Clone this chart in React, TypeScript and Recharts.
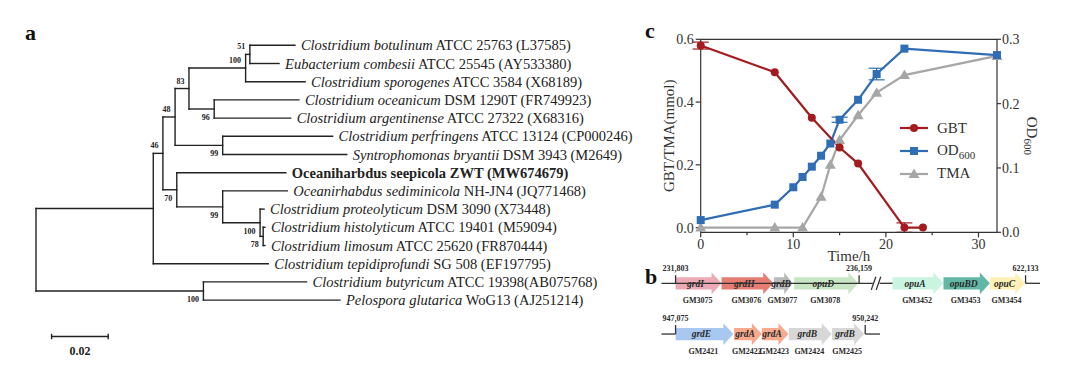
import React from "react";
import {
  ComposedChart, LineChart, Line, Scatter, XAxis, YAxis, ReferenceLine, ReferenceArea, ErrorBar,
} from "recharts";

const SERIF = "'Liberation Serif', 'Times New Roman', serif";
const INK = "#222";

// ---------- a: phylogenetic tree ----------
const LEAF_SPECIES = [
  "Clostridium botulinum", "Eubacterium combesii", "Clostridium sporogenes", "Clostridium oceanicum",
  "Clostridium argentinense", "Clostridium perfringens", "Syntrophomonas bryantii", "Oceaniharbdus seepicola",
  "Oceanirhabdus sediminicola", "Clostridium proteolyticum", "Clostridium histolyticum", "Clostridium limosum",
  "Clostridium tepidiprofundi", "Clostridium butyricum", "Pelospora glutarica",
];
const LEAF_STRAIN = [
  " ATCC 25763 (L37585)", " ATCC 25545 (AY533380)", " ATCC 3584 (X68189)", " DSM 1290T (FR749923)",
  " ATCC 27322 (X68316)", " ATCC 13124 (CP000246)", " DSM 3943 (M2649)", " ZWT (MW674679)",
  " NH-JN4 (JQ771468)", " DSM 3090 (X73448)", " ATCC 19401 (M59094)", " ATCC 25620 (FR870444)",
  " SG 508 (EF197795)", " ATCC 19398(AB075768)", " WoG13 (AJ251214)",
];
const LEAF_PARENT = ["n51", "n51", "n100a", "n96", "n96", "n99a", "n99a", "n70", "n99b", "n100b", "n78", "n78", "n46", "n100c", "n100c"];
const LEAF_DEPTH = [0.0914, 0.0858, 0.095, 0.0928, 0.0899, 0.1047, 0.1097, 0.0882, 0.0887, 0.0805, 0.0808, 0.0808, 0.082, 0.0955, 0.1073];
const FOCAL_LEAF = 7;

const INTERNAL = [
  { id: "root", parent: null as string | null, depth: 0, boot: null as number | null },
  { id: "n46", parent: "root", depth: 0.0414, boot: null },
  { id: "n48", parent: "n46", depth: 0.0448, boot: 46 },
  { id: "n83", parent: "n48", depth: 0.0491, boot: 48 },
  { id: "nA", parent: "n83", depth: 0.054, boot: 83 },
  { id: "n100a", parent: "nA", depth: 0.074, boot: 100 },
  { id: "n51", parent: "n100a", depth: 0.0755, boot: 51 },
  { id: "n96", parent: "nA", depth: 0.0629, boot: 96 },
  { id: "n99a", parent: "n83", depth: 0.0659, boot: 99 },
  { id: "n70", parent: "n48", depth: 0.0497, boot: 70 },
  { id: "n99b", parent: "n70", depth: 0.0659, boot: 99 },
  { id: "n100b", parent: "n99b", depth: 0.0791, boot: 100 },
  { id: "n78", parent: "n100b", depth: 0.0802, boot: 78 },
  { id: "n100c", parent: "root", depth: 0.0591, boot: 100 },
];
const SCALE_BAR = { start: 0.0055, length: 0.02, label: "0.02" };

const childrenOf = (id: string): string[] => [
  ...INTERNAL.filter((n) => n.parent === id).map((n) => n.id),
  ...LEAF_PARENT.map((p, i) => (p === id ? `L${i}` : "")).filter(Boolean),
];
const yOf = (id: string): number => {
  if (id.startsWith("L")) return Number(id.slice(1));
  const ys = childrenOf(id).map(yOf);
  return (Math.min(...ys) + Math.max(...ys)) / 2;
};
const depthOf = (id: string): number =>
  id.startsWith("L") ? LEAF_DEPTH[Number(id.slice(1))] : INTERNAL.find((n) => n.id === id)!.depth;
const parentOf = (id: string) =>
  id.startsWith("L") ? LEAF_PARENT[Number(id.slice(1))] : INTERNAL.find((n) => n.id === id)!.parent;

const allIds = [...INTERNAL.map((n) => n.id), ...LEAF_PARENT.map((_, i) => `L${i}`)];
const treeSegments: { x: number; y: number }[][] = [];
allIds.forEach((id) => {
  const p = parentOf(id);
  if (p) treeSegments.push([{ x: depthOf(p), y: yOf(id) }, { x: depthOf(id), y: yOf(id) }]);
});
INTERNAL.forEach((n) => {
  const ys = childrenOf(n.id).map(yOf);
  treeSegments.push([{ x: n.depth, y: Math.min(...ys) }, { x: n.depth, y: Math.max(...ys) }]);
});
const leafPoints = LEAF_SPECIES.map((_, i) => ({ x: LEAF_DEPTH[i], y: i, i }));
const bootPoints = INTERNAL.filter((n) => n.boot != null).map((n) => ({
  x: n.depth, y: yOf(n.id), boot: n.boot, above: yOf(n.id) < yOf(n.parent as string),
}));

const LeafLabel = (p: any) => {
  const i = p.payload.i;
  const focal = i === FOCAL_LEAF;
  return (
    <text x={p.cx + 6} y={p.cy + 5} fontSize={14.5} fontFamily={SERIF} fill={INK} style={{ whiteSpace: "pre" }}>
      <tspan fontStyle={focal ? "normal" : "italic"} fontWeight={focal ? 700 : 400}>{LEAF_SPECIES[i]}</tspan>
      <tspan fontWeight={focal ? 700 : 400}>{LEAF_STRAIN[i]}</tspan>
    </text>
  );
};
const BootLabel = (p: any) => (
  <text x={p.cx - 4.5} y={p.payload.above ? p.cy - 5 : p.cy + 11} textAnchor="end" fontSize={8} fontWeight={700} fontFamily={SERIF} fill={INK}>
    {p.payload.boot}
  </text>
);

function Tree() {
  return (
    <ComposedChart width={640} height={367} margin={{ top: 45.3, left: 36, right: 292.4, bottom: 21.4 }}>
      <XAxis type="number" dataKey="x" domain={[0, 0.11]} hide />
      <YAxis type="number" dataKey="y" domain={[0, 16.5]} reversed hide />
      {treeSegments.map((s, k) => (
        <ReferenceLine key={k} segment={s} stroke={INK} strokeWidth={1.4} strokeLinecap="square" ifOverflow="visible" />
      ))}
      <ReferenceLine
        segment={[{ x: SCALE_BAR.start, y: 16 }, { x: SCALE_BAR.start + SCALE_BAR.length, y: 16 }]}
        stroke={INK} strokeWidth={1.4} ifOverflow="visible"
        label={{ value: SCALE_BAR.label, position: "bottom", offset: 10, fontSize: 12, fontWeight: 700, fill: INK, fontFamily: SERIF }}
      />
      {[SCALE_BAR.start, SCALE_BAR.start + SCALE_BAR.length].map((x, k) => (
        <ReferenceLine key={`cap${k}`} segment={[{ x, y: 15.85 }, { x, y: 16.15 }]} stroke={INK} strokeWidth={1.4} ifOverflow="visible" />
      ))}
      <Scatter data={leafPoints} shape={LeafLabel} isAnimationActive={false} />
      <Scatter data={bootPoints} shape={BootLabel} isAnimationActive={false} />
    </ComposedChart>
  );
}

// ---------- c: growth curves ----------
const TIME_GBT = [0, 8, 12, 15, 17, 22, 24];
const GBT = [0.58, 0.495, 0.35, 0.255, 0.204, 0, 0];
const GBT_ERR = [0.011, 0, 0, 0, 0, 0.015, 0];
const TIME_OD = [0, 8, 10, 11, 12, 13, 14, 15, 17, 19, 22, 32];
const OD600 = [0.019, 0.043, 0.07, 0.086, 0.102, 0.119, 0.138, 0.175, 0.206, 0.246, 0.2855, 0.2755];
const OD_ERR = [0, 0, 0, 0, 0, 0, 0, 0.004, 0, 0.009, 0, 0];
const TIME_TMA = [0, 8, 11, 13, 14, 15, 17, 19, 22, 32];
const TMA = [0, 0, 0, 0.098, 0.2, 0.279, 0.358, 0.43, 0.486, 0.547];
const TIME_TICKS = [0, 5, 10, 15, 20, 25, 30];
const LEFT_TICKS = [0, 0.2, 0.4, 0.6];
const RIGHT_TICKS = [0, 0.1, 0.2, 0.3];

const RED = "#A31B1E";
const BLUE = "#2F6DB5";
const GRAY = "#A6A6A6";

const gbtData = TIME_GBT.map((t, i) => ({ t, v: GBT[i], e: GBT_ERR[i] }));
const odData = TIME_OD.map((t, i) => ({ t, v: OD600[i], e: OD_ERR[i] }));
const tmaData = TIME_TMA.map((t, i) => ({ t, v: TMA[i] }));

const Circle = (p: any) => <circle cx={p.cx} cy={p.cy} r={4} fill={RED} />;
const Square = (p: any) => <rect x={p.cx - 4} y={p.cy - 4} width={8} height={8} fill={BLUE} />;
const Tri = (p: any) => (
  <polygon points={`${p.cx},${p.cy - 5.5} ${p.cx - 5.5},${p.cy + 4} ${p.cx + 5.5},${p.cy + 4}`} fill={GRAY} />
);

const TimeTick = (p: any) => {
  const major = p.payload.value % 10 === 0;
  return (
    <g>
      <line x1={p.x} x2={p.x} y1={p.y} y2={p.y + (major ? 5 : 3)} stroke="#333" strokeWidth={1.2} />
      {major && (
        <text x={p.x} y={p.y + 17} textAnchor="middle" fontSize={14} fontFamily={SERIF} fill="#333">{p.payload.value}</text>
      )}
    </g>
  );
};

const axisTick = { fontSize: 14, fontFamily: SERIF, fill: "#333" };

function Curves() {
  return (
    <LineChart width={440} height={275} margin={{ top: 39.3, left: 15.7, right: 38, bottom: 12.7 }}>
      <XAxis
        type="number" dataKey="t" domain={[0, 32]} ticks={TIME_TICKS} interval={0}
        tick={TimeTick} tickLine={false} tickSize={0} tickMargin={0} height={30}
        stroke="#333" strokeWidth={1.2}
        label={{
          content: (l: any) => (
            <text x={l.viewBox.x + l.viewBox.width / 2} y={l.viewBox.y + 29} textAnchor="middle" fontSize={15} fontFamily={SERIF} fill="#333">Time/h</text>
          ),
        }}
      />
      <YAxis
        yAxisId="left" type="number" domain={[0, 0.6]} ticks={LEFT_TICKS} interval={0} width={45}
        tickFormatter={(v: number) => v.toFixed(1)} tick={axisTick} tickSize={5} tickMargin={2}
        stroke="#333" strokeWidth={1.2}
        label={{
          content: (l: any) => {
            const x = l.viewBox.x + 13.6;
            const y = l.viewBox.y + l.viewBox.height / 2;
            return (
              <text x={x} y={y} transform={`rotate(-90 ${x} ${y})`} textAnchor="middle" dominantBaseline="central" fontSize={15} fontFamily={SERIF} fill="#333">
                GBT/TMA(mmol)
              </text>
            );
          },
        }}
      />
      <YAxis
        yAxisId="right" orientation="right" type="number" domain={[0, 0.3]} ticks={RIGHT_TICKS} interval={0} width={45}
        tickFormatter={(v: number) => v.toFixed(1)} tick={axisTick} tickSize={4} tickMargin={1}
        stroke="#333" strokeWidth={1.2}
        label={{
          content: (l: any) => {
            const x = l.viewBox.x + 34.7;
            const y = l.viewBox.y + l.viewBox.height / 2;
            return (
              <text x={x} y={y} transform={`rotate(90 ${x} ${y})`} textAnchor="middle" dominantBaseline="central" fontSize={15} fontFamily={SERIF} fill="#333">
                OD<tspan fontSize={11} dy={4}>600</tspan>
              </text>
            );
          },
        }}
      />
      <ReferenceLine yAxisId="left" y={0.6} stroke="#333" strokeWidth={1.2} />
      <Line yAxisId="left" data={tmaData} dataKey="v" stroke={GRAY} strokeWidth={2.2} dot={Tri} activeDot={false} isAnimationActive={false} />
      <Line yAxisId="right" data={odData} dataKey="v" stroke={BLUE} strokeWidth={2.2} dot={Square} activeDot={false} isAnimationActive={false}>
        <ErrorBar dataKey="e" direction="y" width={8} stroke={BLUE} strokeWidth={1.2} />
      </Line>
      <Line yAxisId="left" data={gbtData} dataKey="v" stroke={RED} strokeWidth={2.2} dot={Circle} activeDot={false} isAnimationActive={false}>
        <ErrorBar dataKey="e" direction="y" width={8} stroke={RED} strokeWidth={1.2} />
      </Line>
    </LineChart>
  );
}

const LEGEND = [
  { name: "GBT", sub: "", color: RED, marker: "circle" },
  { name: "OD", sub: "600", color: BLUE, marker: "square" },
  { name: "TMA", sub: "", color: GRAY, marker: "tri" },
];

function CurveLegend() {
  return (
    <div style={{ position: "absolute", left: 899, top: 117, fontFamily: SERIF, fontSize: 15, color: "#333" }}>
      {LEGEND.map((it) => (
        <div key={it.name} style={{ display: "flex", alignItems: "center", height: 22.8 }}>
          <svg width={30} height={14} style={{ marginRight: 8 }}>
            <line x1={1} x2={29} y1={7} y2={7} stroke={it.color} strokeWidth={2.2} />
            {it.marker === "circle" && <circle cx={15} cy={7} r={4} fill={it.color} />}
            {it.marker === "square" && <rect x={11} y={3} width={8} height={8} fill={it.color} />}
            {it.marker === "tri" && <polygon points="15,1.5 9.5,11 20.5,11" fill={it.color} />}
          </svg>
          <span>
            {it.name}
            {it.sub && <sub style={{ fontSize: 11 }}>{it.sub}</sub>}
          </span>
        </div>
      ))}
    </div>
  );
}

// ---------- b: gene clusters (schematic units) ----------
const ROW1_GENES = ["grdI", "grdH", "grdB", "opuD", "opuA", "opuBD", "opuC"];
const ROW1_IDS = ["GM3075", "GM3076", "GM3077", "GM3078", "GM3452", "GM3453", "GM3454"];
const ROW1_SPAN = [[4.1, 16.2], [16.2, 29.8], [30.0, 34.9], [35.3, 52.2], [61.2, 74.6], [74.6, 86.8], [86.8, 96.1]];
const ROW1_COLORS = ["#EBAAB6", "#E67D72", "#B9B9B9", "#C8E6C4", "#C9F4E0", "#62B7A5", "#FFF1B5"];
const ROW2_GENES = ["grdE", "grdA", "grdA", "grdB", "grdB"];
const ROW2_IDS = ["GM2421", "GM2422", "GM2423", "GM2424", "GM2425"];
const ROW2_SPAN = [[4.1, 19.3], [19.5, 26.8], [26.8, 33.8], [33.9, 45.2], [45.3, 53.7]];
const ROW2_COLORS = ["#A9C8F1", "#F7AA8E", "#F7AA8E", "#D7D7D7", "#D7D7D7"];
const ROW1_COORDS = [{ at: 4.1, text: "231,803" }, { at: 52.4, text: "236,159" }, { at: 96.2, text: "622,133" }];
const ROW2_COORDS = [{ at: 4.1, text: "947,075" }, { at: 54.0, text: "950,242" }];

const genes = [
  ...ROW1_GENES.map((name, i) => ({ row: 1, name, id: ROW1_IDS[i], span: ROW1_SPAN[i], color: ROW1_COLORS[i] })),
  ...ROW2_GENES.map((name, i) => ({ row: 2, name, id: ROW2_IDS[i], span: ROW2_SPAN[i], color: ROW2_COLORS[i] })),
];
const geneIdPoints = genes.map((g) => ({ x: (g.span[0] + g.span[1]) / 2, y: g.row, id: g.id }));

const GeneArrow = (p: any) => {
  const { x, y, width: w, height: h, gene } = p;
  const cy = y + h / 2;
  const bh = h * 0.28;
  const hl = Math.min(10, w * 0.45);
  const pts = [
    [x, cy - bh], [x + w - hl, cy - bh], [x + w - hl, y], [x + w, cy],
    [x + w - hl, y + h], [x + w - hl, cy + bh], [x, cy + bh],
  ].map((q) => q.join(",")).join(" ");
  return (
    <g>
      <polygon points={pts} fill={gene.color} />
      <text x={x + (w - hl) / 2 + 2} y={cy + 3.3} textAnchor="middle" fontSize={9.5} fontStyle="italic" fontWeight={700} fontFamily={SERIF} fill="#2a2a2a">
        {gene.name}
      </text>
    </g>
  );
};

const GeneId = (p: any) => (
  <text x={p.cx - 1} y={p.cy + 20} textAnchor="middle" fontSize={8} fontWeight={700} fontFamily={SERIF} fill="#2a2a2a">
    {p.payload.id}
  </text>
);

const coordLabel = (text: string) => ({
  value: text, position: "top" as const, offset: 4, fontSize: 8, fontWeight: 700, fill: "#2a2a2a", fontFamily: SERIF,
});

function Genes() {
  const line = { stroke: "#333", strokeWidth: 1.3, ifOverflow: "visible" as const };
  return (
    <ComposedChart width={440} height={112} margin={{ top: 2.95, left: 20, right: 40, bottom: 7.6 }}>
      <XAxis type="number" dataKey="x" domain={[0, 100]} hide />
      <YAxis type="number" dataKey="y" domain={[0.5, 2.5]} reversed hide />
      {/* backbones */}
      <ReferenceLine segment={[{ x: 0.4, y: 1 }, { x: 56.0, y: 1 }]} {...line} />
      <ReferenceLine segment={[{ x: 57.8, y: 1 }, { x: 61.2, y: 1 }]} {...line} />
      <ReferenceLine segment={[{ x: 55.6, y: 1.13 }, { x: 56.8, y: 0.87 }]} {...line} />
      <ReferenceLine segment={[{ x: 56.9, y: 1.13 }, { x: 58.1, y: 0.87 }]} {...line} />
      <ReferenceLine segment={[{ x: 96.2, y: 1 }, { x: 100, y: 1 }]} {...line} />
      <ReferenceLine segment={[{ x: 0.4, y: 2 }, { x: 4.1, y: 2 }]} {...line} />
      <ReferenceLine segment={[{ x: 54.0, y: 2 }, { x: 57.9, y: 2 }]} {...line} />
      {ROW1_COORDS.map((c) => (
        <ReferenceLine key={c.text} segment={[{ x: c.at, y: 0.84 }, { x: c.at, y: 1 }]} {...line} label={coordLabel(c.text)} />
      ))}
      {ROW2_COORDS.map((c) => (
        <ReferenceLine key={c.text} segment={[{ x: c.at, y: 1.82 }, { x: c.at, y: 2 }]} {...line} label={coordLabel(c.text)} />
      ))}
      {genes.map((g, k) => (
        <ReferenceArea
          key={k} x1={g.span[0]} x2={g.span[1]} y1={g.row - 0.215} y2={g.row + 0.215}
          ifOverflow="visible" shape={(p: any) => <GeneArrow {...p} gene={g} />}
        />
      ))}
      <Scatter data={geneIdPoints} shape={GeneId} isAnimationActive={false} />
    </ComposedChart>
  );
}

export default function App() {
  return (
    <div style={{ position: "absolute", left: 0, top: 0, width: 1080, height: 367, background: "#fff", overflow: "hidden" }}>
      <div style={{ position: "absolute", left: 0, top: 0 }}><Tree /></div>
      <div style={{ position: "absolute", left: 640, top: 0 }}><Curves /></div>
      <CurveLegend />
      <div style={{ position: "absolute", left: 640, top: 255 }}><Genes /></div>
      <svg width={1080} height={367} style={{ position: "absolute", left: 0, top: 0, pointerEvents: "none" }}>
        <text x={25} y={40} fontSize={22} fontWeight={700} fontFamily={SERIF} fill="#111">a</text>
        <text x={645} y={38} fontSize={22} fontWeight={700} fontFamily={SERIF} fill="#111">c</text>
        <text x={645} y={284} fontSize={22} fontWeight={700} fontFamily={SERIF} fill="#111">b</text>
      </svg>
    </div>
  );
}
